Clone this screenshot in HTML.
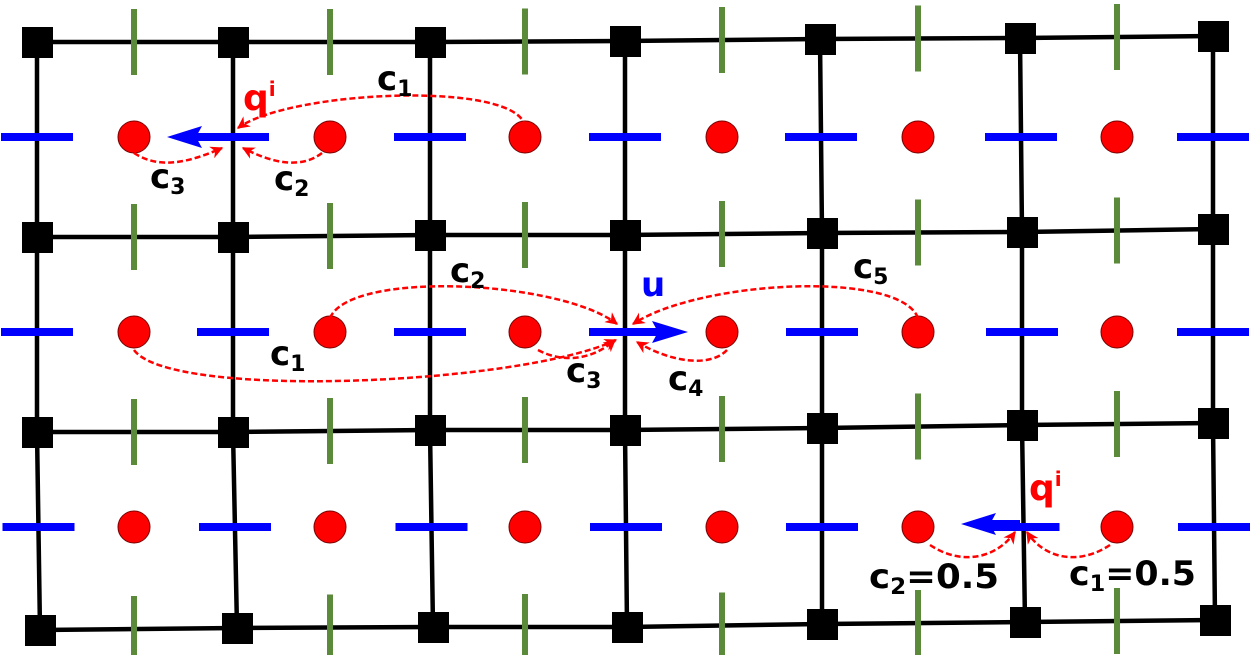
<!DOCTYPE html>
<html><head><meta charset="utf-8"><style>
html,body{margin:0;padding:0;background:#fff;width:1258px;height:655px;overflow:hidden}
svg{display:block}
text{font-family:"DejaVu Sans","Liberation Sans",sans-serif;font-weight:bold}
</style></head><body>
<svg id="s" width="1258" height="655" viewBox="0 0 1258 655" xmlns="http://www.w3.org/2000/svg">
<defs>
<marker id="ar" viewBox="0 0 10 10" refX="9" refY="5" markerWidth="5" markerHeight="5" orient="auto"><path d="M0,0 L10,5 L0,10 L3,5 z" fill="#f00"/></marker>
</defs>
<g id="grid"></g>
<g fill="none" stroke="#f00" stroke-width="2.5" stroke-dasharray="6,3" marker-end="url(#ar)">
<path d="M525,127 C520,80 290,90 238,128"/>
<path d="M134,153 C160,170 190,162 222,148"/>
<path d="M322,153 C300,170 270,162 243,148"/>
<path d="M330,318 C350,270 560,280 617,324"/>
<path d="M134,350 C170,400 520,385 616,340"/>
<path d="M538,350 C560,362 590,362 615,340"/>
<path d="M727,350 C710,368 670,362 637,342"/>
<path d="M918,318 C900,270 700,280 633,324"/>
<path d="M930,545 C960,565 995,560 1015,532"/>
<path d="M1110,545 C1080,565 1045,560 1027,532"/>
</g>
<g fill="#000" font-size="34">
<text x="377" y="90">c<tspan font-size="22" dy="6">1</tspan></text>
<text x="150" y="188">c<tspan font-size="22" dy="6">3</tspan></text>
<text x="274" y="190">c<tspan font-size="22" dy="6">2</tspan></text>
<text x="450" y="282">c<tspan font-size="22" dy="6">2</tspan></text>
<text x="853" y="278">c<tspan font-size="22" dy="6">5</tspan></text>
<text x="270" y="365">c<tspan font-size="22" dy="6">1</tspan></text>
<text x="566" y="382">c<tspan font-size="22" dy="6">3</tspan></text>
<text x="668" y="390">c<tspan font-size="22" dy="6">4</tspan></text>
<text x="869" y="588" textLength="130" lengthAdjust="spacingAndGlyphs">c<tspan font-size="22" dy="6">2</tspan><tspan dy="-6">=0.5</tspan></text>
<text x="1069" y="585" textLength="127" lengthAdjust="spacingAndGlyphs">c<tspan font-size="22" dy="6">1</tspan><tspan dy="-6">=0.5</tspan></text>
</g>
<text x="243" y="110" font-size="36" fill="#f00">q<tspan font-size="20" dy="-14">i</tspan></text>
<text x="1029" y="500" font-size="36" fill="#f00">q<tspan font-size="20" dy="-14">i</tspan></text>
<text x="641" y="296" font-size="34" fill="#00f">u</text>
</svg>
<script>
var g=document.getElementById('grid'),ns='http://www.w3.org/2000/svg';
function el(t,a){var e=document.createElementNS(ns,t);for(var k in a)e.setAttribute(k,a[k]);g.appendChild(e);return e;}
var N=[
[[37,42],[233,42],[430,42],[625,41],[820,39],[1020,38],[1213,36]],
[[37,237],[233,237],[430,235],[625,235],[822,233],[1022,232],[1213,229]],
[[37,432],[233,432],[430,430],[625,430],[822,428],[1022,425],[1213,423]],
[[40,630],[237,628],[433,627],[627,627],[822,624],[1025,622],[1215,620]]];
var i,j;
for(i=0;i<4;i++){el('polyline',{points:N[i].map(function(p){return p.join(',')}).join(' '),fill:'none',stroke:'#000','stroke-width':4.5});}
for(j=0;j<7;j++){el('polyline',{points:N.map(function(r){return r[j].join(',')}).join(' '),fill:'none',stroke:'#000','stroke-width':4.5});}
var cx=[134,330,525,722,918,1117];
for(i=0;i<4;i++)for(j=0;j<6;j++){var y=(N[i][j][1]+N[i][j+1][1])/2;el('line',{x1:cx[j],x2:cx[j],y1:y-33,y2:y+33,stroke:'#5a8a3a','stroke-width':6});}
var ry=[137,332,527];
for(i=0;i<3;i++){for(j=0;j<7;j++){var x=(N[i][j][0]+N[i+1][j][0])/2;el('line',{x1:x-36,x2:x+36,y1:ry[i],y2:ry[i],stroke:'#00f','stroke-width':8});}
for(j=0;j<6;j++)el('circle',{cx:cx[j],cy:ry[i],r:16,fill:'#f00',stroke:'#700','stroke-width':1});}
for(i=0;i<4;i++)for(j=0;j<7;j++){el('rect',{x:N[i][j][0]-15,y:N[i][j][1]-15,width:31,height:31,fill:'#000'});}
el('line',{x1:233,x2:195,y1:137,y2:137,stroke:'#00f','stroke-width':8});
el('path',{d:'M167,137 L202,126 L196,137 L202,148 z',fill:'#00f'});
el('line',{x1:625,x2:660,y1:332,y2:332,stroke:'#00f','stroke-width':8});
el('path',{d:'M688,332 L652,321 L658,332 L652,343 z',fill:'#00f'});
el('line',{x1:1020,x2:990,y1:524,y2:524,stroke:'#00f','stroke-width':8});
el('path',{d:'M961,524 L996,513 L990,524 L996,535 z',fill:'#00f'});
</script>
</body></html>
